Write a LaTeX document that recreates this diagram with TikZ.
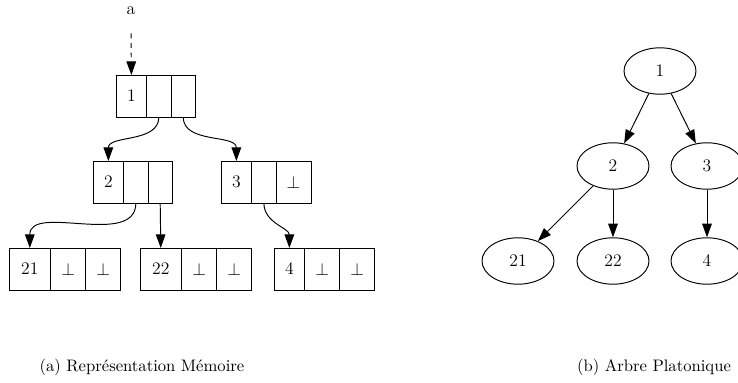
\documentclass[tikz,border=0pt]{standalone}
\usepackage{amsmath}
\usepackage{tikz}
\usetikzlibrary{positioning}
\usetikzlibrary{positioning,shapes.geometric,arrows.meta}

\tikzset{
	cell/.style={draw, line width=0.6pt, minimum height=26.25pt,
		inner sep=0pt, outer sep=0pt, font=\fontsize{11}{13}\selectfont},
	keycell/.style={cell, minimum width=19.2pt},
	widekey/.style={cell, minimum width=26pt},
	ptrcell/.style={cell, minimum width=15.2pt},
	nilcell/.style={cell, minimum width=21.9pt},
	vertex/.style={draw, ellipse, line width=0.6pt,
		minimum width=45pt, minimum height=29pt, inner sep=0pt,
		font=\fontsize{11}{13}\selectfont},
	link/.style={line width=0.6pt, -{Triangle[length=8.5pt,width=6pt]}},
}

\begin{document}
\begin{tikzpicture}[x=0.625pt, y=-0.625pt]

\useasboundingbox (0, 0) rectangle (738, 383);

% Pointer a
\node [font=\fontsize{11}{13}\selectfont] (a) at (131, 11) {a};

% Record 1
\node [keycell, anchor=north west] (r1a) at (116, 75) {1};
\node [ptrcell, right=0pt of r1a] (r1b) {};
\node [ptrcell, right=0pt of r1b] (r1c) {};

% Record 2
\node [keycell, anchor=north west] (r2a) at (93, 161) {2};
\node [ptrcell, right=0pt of r2a] (r2b) {};
\node [ptrcell, right=0pt of r2b] (r2c) {};

% Record 3
\node [keycell, anchor=north west] (r3a) at (221, 161) {3};
\node [ptrcell, right=0pt of r3a] (r3b) {};
\node [nilcell, right=0pt of r3b] (r3c) {$\perp$};

% Record 21
\node [widekey, anchor=north west] (r21a) at (9, 248) {21};
\node [nilcell, right=0pt of r21a] (r21b) {$\perp$};
\node [nilcell, right=0pt of r21b] (r21c) {$\perp$};

% Record 22
\node [widekey, anchor=north west] (r22a) at (140, 248) {22};
\node [nilcell, right=0pt of r22a] (r22b) {$\perp$};
\node [nilcell, right=0pt of r22b] (r22c) {$\perp$};

% Record 4
\node [keycell, anchor=north west] (r4a) at (274, 248) {4};
\node [nilcell, right=0pt of r4a] (r4b) {$\perp$};
\node [nilcell, right=0pt of r4b] (r4c) {$\perp$};

% Links between records
\draw [link, dashed, shorten <=8pt] (a.south) -- (r1a.north);
\draw [link] (r1b.south) to[out=-90, in=90] (r2a.north);
\draw [link] (r1c.south) to[out=-90, in=90] (r3a.north);
\draw [link] (r2b.south) to[out=-90, in=90] (r21a.north);
\draw [link] (r2c.south) -- (r22a.north);
\draw [link] (r3b.south) to[out=-90, in=90] (r4a.north);

% Tree
\node [vertex] (t1) at (660, 71) {1};
\node [vertex] (t2) at (613, 166) {2};
\node [vertex] (t3) at (707, 166) {3};
\node [vertex] (t21) at (518, 261) {21};
\node [vertex] (t22) at (613, 261) {22};
\node [vertex] (t4) at (707, 261) {4};

\draw [link] (t1) -- (t2);
\draw [link] (t1) -- (t3);
\draw [link] (t2) -- (t21);
\draw [link] (t2) -- (t22);
\draw [link] (t3) -- (t4);

% Captions
\node [font=\fontsize{10.4}{12}\selectfont] (capa) at (142, 367) {(a) Représentation Mémoire};
\node [font=\fontsize{10.4}{12}\selectfont] (capb) at (654, 367) {(b) Arbre Platonique};

\end{tikzpicture}
\end{document}
